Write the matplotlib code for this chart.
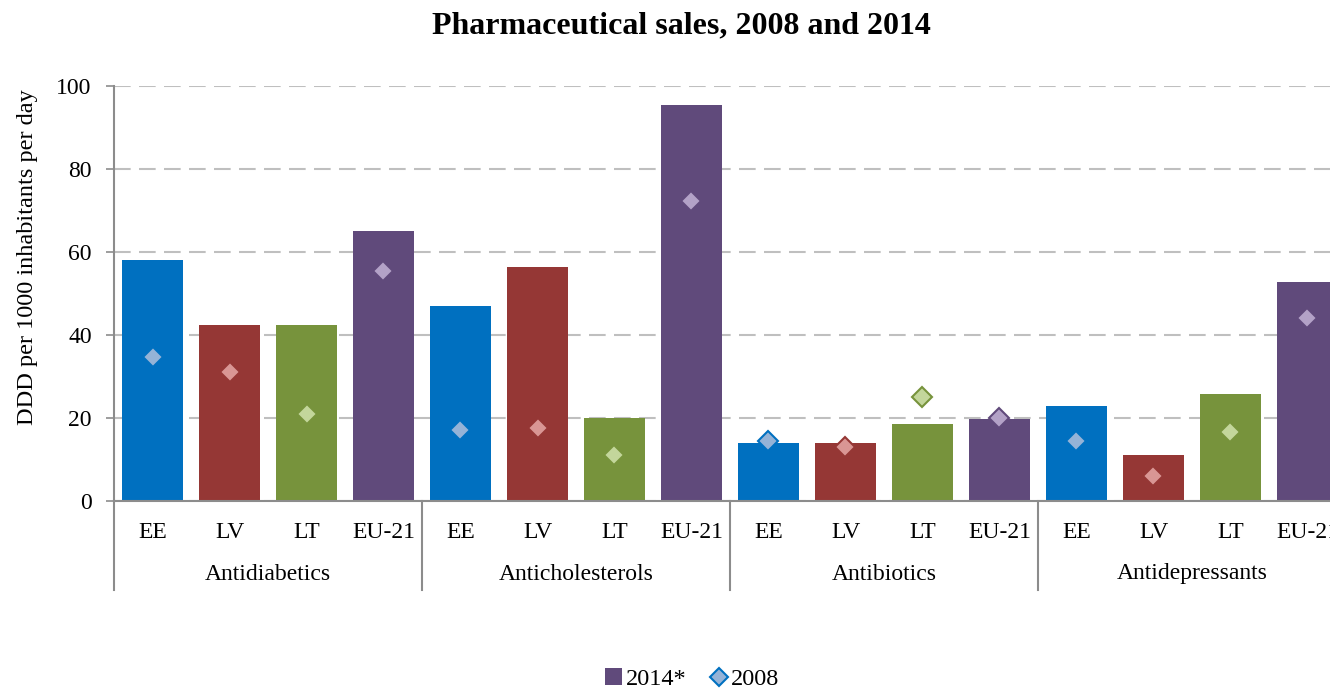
import matplotlib
matplotlib.use("Agg")
import matplotlib.pyplot as plt
from matplotlib.patches import Patch
from matplotlib.lines import Line2D
from matplotlib.transforms import blended_transform_factory

plt.rcParams['font.family'] = ['Liberation Serif', 'DejaVu Serif']

groups = ["Antidiabetics", "Anticholesterols", "Antibiotics", "Antidepressants"]
countries = ["EE", "LV", "LT", "EU-21"]

sales_2014 = {
    "Antidiabetics":    [58.0, 42.5, 42.5, 65.0],
    "Anticholesterols": [47.0, 56.5, 20.0, 95.5],
    "Antibiotics":      [14.0, 14.0, 18.6, 19.8],
    "Antidepressants":  [22.9, 11.1, 25.8, 52.8],
}
sales_2008 = {
    "Antidiabetics":    [34.7, 31.0, 21.0, 55.5],
    "Anticholesterols": [17.2, 17.5, 11.2, 72.3],
    "Antibiotics":      [14.5, 12.9, 25.1, 19.9],
    "Antidepressants":  [14.5, 6.1, 16.6, 44.0],
}

bar_colors = ["#0070C0", "#953735", "#77933C", "#604A7B"]
marker_colors = ["#95B3D7", "#D99694", "#C3D69B", "#B3A2C7"]

fig = plt.figure(figsize=(13.3, 6.89), dpi=100)
ax = fig.add_axes([114 / 1330, 1 - 501 / 689, 1232 / 1330, 415 / 689])

x = 0
xticks, xlabels = [], []
for g in groups:
    for i, c in enumerate(countries):
        ax.bar(x, sales_2014[g][i], width=0.78, color=bar_colors[i], zorder=2)
        ax.plot(x, sales_2008[g][i], marker="D", markersize=10,
                markerfacecolor=marker_colors[i], markeredgecolor=bar_colors[i],
                markeredgewidth=1.5, linestyle="none", zorder=3)
        xticks.append(x)
        xlabels.append(c)
        x += 1

ax.set_xlim(-0.5, len(xticks) - 0.5)
ax.set_ylim(0, 100)
ax.set_yticks(range(0, 101, 20))
ax.yaxis.grid(True, color="#BFBFBF", linestyle=(0, (8, 4)), linewidth=1.5, zorder=0)
ax.set_axisbelow(True)

ax.set_xticks(xticks)
ax.set_xticklabels(xlabels, fontsize=17)
ax.tick_params(axis="x", length=0, pad=15)
ax.tick_params(axis="y", labelsize=17, length=6, color="#8C8C8C", width=1.2, pad=10)

for s in ["top", "right"]:
    ax.spines[s].set_visible(False)
for s in ["left", "bottom"]:
    ax.spines[s].set_color("#8C8C8C")
    ax.spines[s].set_linewidth(1.5)

ax.set_ylabel("DDD per 1000 inhabitants per day", fontsize=17.5)
ax.yaxis.set_label_coords(-0.062, (501 - 257) / 415)

# group separators and group names beneath the country labels
trans = blended_transform_factory(ax.transData, ax.transAxes)
n = len(countries)
low = -(590 - 501) / 415
for k, g in enumerate(groups):
    left = k * n - 0.5
    ax.add_line(Line2D([left, left], [0, low], transform=trans, color="#8C8C8C",
                       linewidth=1.5, clip_on=False))
    ax.text(left + n / 2, -(574 - 501) / 415, g, transform=trans, ha="center",
            va="center", fontsize=17)

fig.suptitle("Pharmaceutical sales, 2008 and 2014", x=681 / 1330, y=1 - 26 / 689,
             va="center", fontsize=23, fontweight="bold")

handles = [
    Patch(facecolor=bar_colors[3], edgecolor="none", label="2014*"),
    Line2D([], [], marker="D", markersize=9, markerfacecolor=marker_colors[0],
           markeredgecolor=bar_colors[0], markeredgewidth=1.5, linestyle="none",
           label="2008"),
]
fig.legend(handles=handles, loc="center", bbox_to_anchor=(692 / 1330, 1 - 679 / 689),
           ncol=2, frameon=False, fontsize=17.5, handlelength=0.7, handletextpad=0.15,
           columnspacing=1.0)

fig.savefig("out.png", dpi=100)
